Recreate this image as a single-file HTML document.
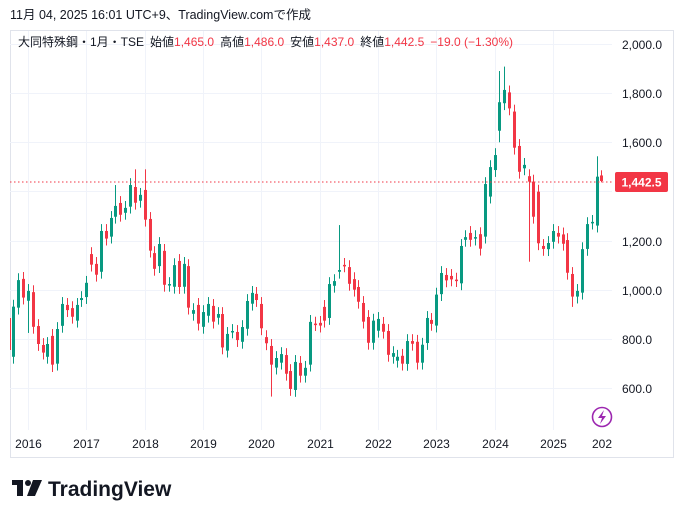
<!DOCTYPE html>
<html><head><meta charset="utf-8"><style>
html,body{margin:0;padding:0;background:#fff;width:684px;height:518px;overflow:hidden}
svg{display:block}
text{font-family:"Liberation Sans","Noto Sans CJK JP",sans-serif}
</style></head><body>
<svg id="s" width="684" height="518" viewBox="0 0 684 518" xmlns="http://www.w3.org/2000/svg">
<rect x="0" y="0" width="684" height="518" fill="#fff"/>
<text x="10" y="19" font-size="12.5" fill="#131722">11月 04, 2025 16:01 UTC+9、TradingView.comで作成</text>
<rect x="10.5" y="30.5" width="663" height="427" fill="none" stroke="#e0e3eb" stroke-width="1"/>
<g id="grid" stroke="#f0f3fa" stroke-width="1"></g>
<g id="c"></g>
<line x1="10" y1="182" x2="612" y2="182" stroke="#f23645" stroke-width="1" stroke-dasharray="1.5,2.5"/>
<g id="ax" font-size="12" fill="#131722"></g>
<rect x="615" y="172" width="53" height="20" rx="2" fill="#f23645"/>
<text x="641.5" y="186.5" font-size="12" fill="#fff" text-anchor="middle" font-weight="bold">1,442.5</text>
<text x="18" y="46" font-size="12" fill="#131722">大同特殊鋼・1月・TSE<tspan dx="6">始値</tspan><tspan fill="#f23645">1,465.0</tspan><tspan dx="6">高値</tspan><tspan fill="#f23645">1,486.0</tspan><tspan dx="6">安値</tspan><tspan fill="#f23645">1,437.0</tspan><tspan dx="6">終値</tspan><tspan fill="#f23645">1,442.5</tspan><tspan dx="6" fill="#f23645">−19.0 (−1.30%)</tspan></text>
<circle cx="602" cy="417" r="9.5" fill="#fff" stroke="#9c27b0" stroke-width="1.6"/>
<path d="M604 410 L598 418 L602 418 L600 424 L606 416 L602 416 Z" fill="#9c27b0"/>
<g fill="#131722">
<rect x="12" y="480" width="11" height="5"/>
<rect x="17" y="480" width="6" height="16"/>
<circle cx="28" cy="483" r="3"/>
<path d="M33 480 L42 480 L35 496 L27 496 Z"/>
</g>
<text x="48" y="496" font-size="21" font-weight="bold" fill="#131722">TradingView</text>
</svg>
<script>
var D=[[727,931],[927,1039],[1044,968],[955,995,0,824],[990,849],[852,779],[775,744],[727,779],[812,695,0,665],[699,840],[853,942],[938,917],[925,890],[874,938],[958,966],[970,1028],[1145,1102],[1105,1061],[1073,1239],[1239,1208],[1216,1292],[1297,1341,1426],[1353,1305],[1313,1333],[1338,1426],[1418,1354,1490],[1362,1386],[1406,1285,1490],[1288,1159],[1149,1085],[1096,1186],[1158,1020],[1020,1023],[1012,1100],[1117,1011],[1012,1105],[1096,927],[902,917],[938,862],[849,909],[894,942],[934,870],[886,901],[901,765],[752,820],[830,832],[828,795],[788,848],[841,954],[943,987],[983,958],[942,843],[807,782],[771,695,0,565],[683,722],[703,738],[734,658],[669,596],[592,706],[702,650],[650,682],[695,869],[862,860],[865,854],[930,874],[885,1023],[1016,1035],[1073,1080,1263],[1101,1099],[1092,1024],[1043,1000],[1011,951],[946,870],[889,784],[784,874],[833,881],[861,829],[832,735],[727,742],[711,727],[731,699],[698,791],[791,780],[788,703],[703,776],[783,885],[877,861],[854,980],[982,1068],[1060,1038],[1056,1042],[1041,1039],[1026,1178],[1203,1214],[1231,1203],[1208,1214],[1226,1167],[1216,1430],[1379,1499],[1487,1548],[1647,1763,1890,1600],[1759,1813,1908],[1803,1738],[1725,1578],[1585,1480],[1494,1508],[1462,1440,0,1114],[1440,1297],[1399,1189],[1178,1166],[1165,1190],[1195,1239],[1231,1216],[1225,1187],[1202,1069],[1064,972,0,930],[972,995],[988,1165],[1166,1267],[1273,1276],[1261,1460,1543],[1465,1442.5,1486,1437]];
function Y(p){return 44+(2000-p)*0.2457;}
function X(m){return 28+m*4.86;}
var ns="http://www.w3.org/2000/svg";
function el(g,t,a){var e=document.createElementNS(ns,t);for(var k in a)e.setAttribute(k,a[k]);g.appendChild(e);return e;}
var grid=document.getElementById('grid'),ax=document.getElementById('ax'),c=document.getElementById('c');
for(var p=600;p<=2000;p+=200){var y=Math.round(Y(p))+0.5;el(grid,'line',{x1:10,x2:612,y1:y,y2:y});
 if(p!=1400){var t=el(ax,'text',{x:622,y:y+4.5});t.textContent=(p>=1000?Math.floor(p/1000)+','+String(p%1000).padStart(3,'0'):p)+'.0';}}
for(var yr=2016;yr<=2025;yr++){var x=Math.round(X((yr-2016)*12))+0.5;el(grid,'line',{x1:x,x2:x,y1:31,y2:430});var t=el(ax,'text',{x:x,y:448,'text-anchor':'middle'});t.textContent=yr;}
var t=el(ax,'text',{x:602,y:448,'text-anchor':'middle'});t.textContent='202';
el(ax,'rect',{x:612,y:436,width:10,height:16,fill:'#fff'});
el(c,'rect',{x:10,y:318,width:1,height:32,fill:'#f23645'});
for(var i=0;i<D.length;i++){var d=D[i],m=i-3,o=d[0],cl=d[1];var up=cl>=o;var col=up?'#089981':'#f23645';
 var hi=d[2]||Math.max(o,cl)+28,lo=d[3]||Math.min(o,cl)-28;var x=Math.round(X(m));
 el(c,'rect',{x:x,y:Y(hi),width:1,height:Y(lo)-Y(hi),fill:col});
 var t1=Y(Math.max(o,cl)),b1=Y(Math.min(o,cl));if(b1-t1<1.5){b1=t1+1.5;}
 el(c,'rect',{x:x-1,y:t1,width:3,height:b1-t1,fill:col});}
</script>
</body></html>
